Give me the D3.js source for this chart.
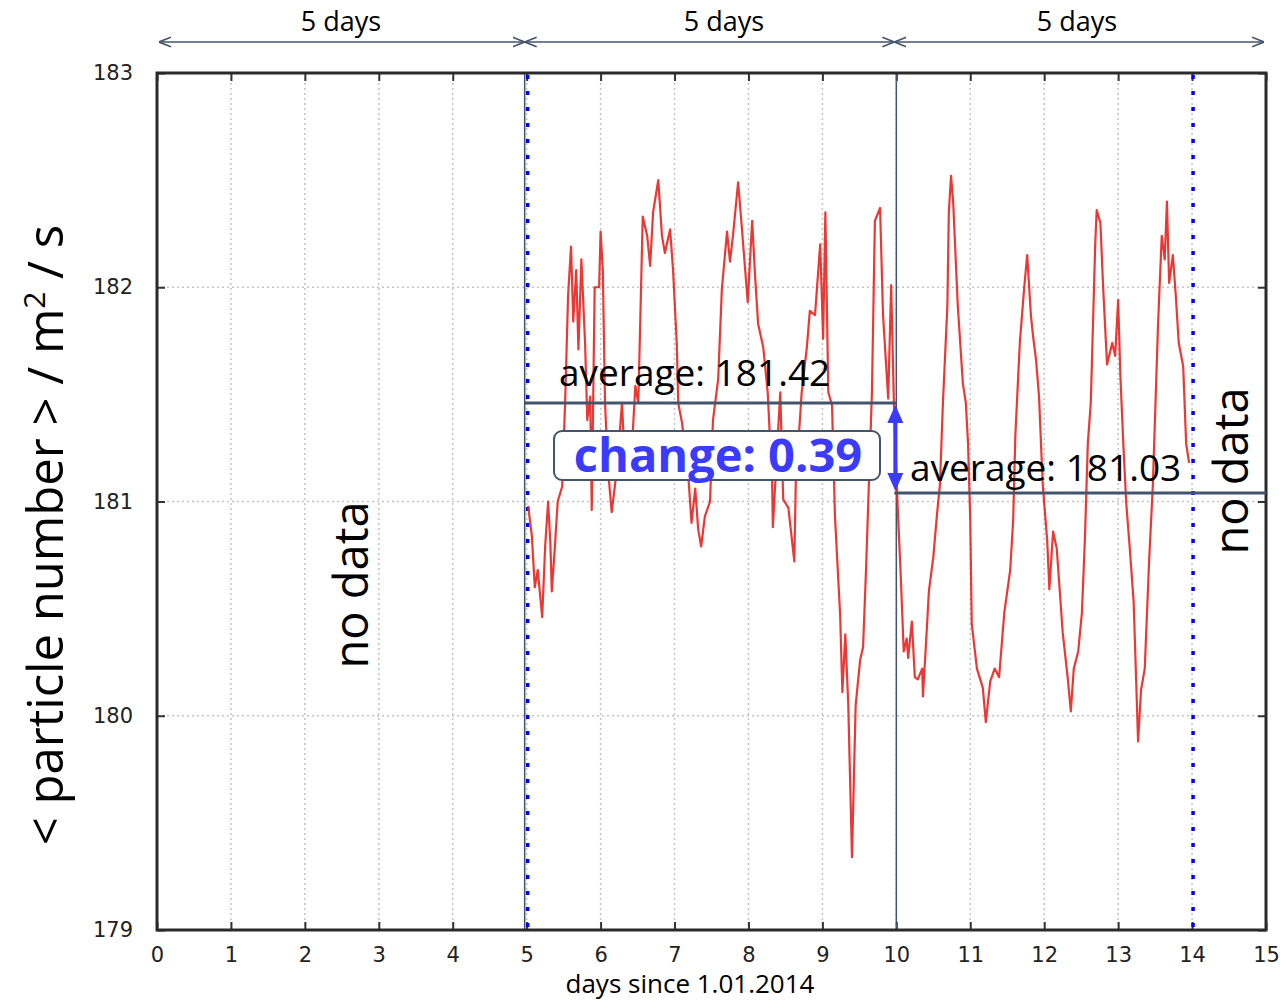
<!DOCTYPE html>
<html>
<head>
<meta charset="utf-8">
<script src="https://cdn.jsdelivr.net/npm/d3@7"></script>
<style>
  body { margin: 0; background: #fff; }
  svg { display: block; }
  .tick text { font-family: "DejaVu Sans", sans-serif; font-size: 21px; fill: #222; }
  .lbl { font-family: "Open Sans", sans-serif; fill: #000; }
</style>
</head>
<body>
<div id="chart"></div>
<script>
// days since 1.01.2014 and particle flux
const days = [
  5.02, 5.07, 5.11, 5.15, 5.21, 5.25, 5.29, 5.32, 5.34, 5.38, 5.42, 5.48, 5.52, 5.56, 5.60, 5.63,
  5.67, 5.70, 5.74, 5.79, 5.82, 5.86, 5.88, 5.92, 5.98, 6.00, 6.03, 6.06, 6.10, 6.15, 6.22, 6.29,
  6.33, 6.37, 6.42, 6.47, 6.51, 6.57, 6.63, 6.67, 6.71, 6.78, 6.83, 6.87, 6.94, 6.98, 7.03, 7.05,
  7.10, 7.18, 7.23, 7.28, 7.32, 7.36, 7.41, 7.48, 7.52, 7.59, 7.64, 7.71, 7.75, 7.79, 7.86, 7.91,
  7.99, 8.05, 8.09, 8.13, 8.20, 8.26, 8.32, 8.33, 8.39, 8.43, 8.47, 8.54, 8.62, 8.64, 8.72, 8.79,
  8.83, 8.90, 8.97, 9.01, 9.04, 9.08, 9.13, 9.17, 9.24, 9.27, 9.31, 9.35, 9.40, 9.45, 9.51, 9.55,
  9.59, 9.67, 9.71, 9.78, 9.82, 9.89, 9.93, 9.97, 10.02, 10.06, 10.10, 10.14, 10.16, 10.21, 10.25,
  10.29, 10.35, 10.36, 10.41, 10.44, 10.50, 10.55, 10.59, 10.63, 10.69, 10.71, 10.74, 10.77, 10.83,
  10.90, 10.94, 10.97, 11.00, 11.02, 11.09, 11.17, 11.21, 11.27, 11.33, 11.39, 11.46, 11.54, 11.58,
  11.61, 11.67, 11.73, 11.77, 11.82, 11.85, 11.89, 11.93, 11.98, 12.04, 12.07, 12.12, 12.17, 12.25,
  12.32, 12.36, 12.40, 12.46, 12.51, 12.55, 12.59, 12.63, 12.69, 12.71, 12.76, 12.80, 12.85, 12.92,
  12.96, 13.00, 13.03, 13.07, 13.11, 13.16, 13.21, 13.27, 13.31, 13.36, 13.42, 13.47, 13.54, 13.59,
  13.63, 13.66, 13.69, 13.74, 13.78, 13.82, 13.88, 13.92, 13.96
];
const flux = [
  180.98, 180.84, 180.60, 180.68, 180.46, 180.79, 181.00, 180.81, 180.58, 180.78, 181.00, 181.07, 181.46, 181.96, 182.19, 181.84,
  182.08, 181.71, 182.13, 181.74, 181.38, 181.49, 180.96, 182.00, 182.00, 182.26, 182.08, 181.46, 181.15, 180.95, 181.15, 181.46,
  181.15, 181.10, 181.23, 181.54, 181.46, 182.33, 182.24, 182.10, 182.35, 182.50, 182.24, 182.16, 182.27, 182.08, 181.74, 181.46,
  181.37, 181.15, 180.90, 181.06, 180.87, 180.79, 180.93, 181.00, 181.38, 181.57, 181.99, 182.26, 182.12, 182.24, 182.49, 182.28,
  181.93, 182.31, 182.05, 181.83, 181.72, 181.51, 181.09, 180.88, 181.26, 181.51, 181.01, 180.97, 180.72, 181.09, 181.51, 181.72,
  181.89, 181.87, 182.20, 181.76, 182.35, 181.51, 181.45, 180.93, 180.47, 180.11, 180.38, 180.05, 179.34, 180.05, 180.26, 180.32,
  180.68, 181.51, 182.31, 182.37, 181.87, 181.48, 182.01, 181.42, 180.96, 180.65, 180.30, 180.36, 180.27, 180.44, 180.18,
  180.17, 180.22, 180.09, 180.39, 180.58, 180.74, 180.94, 181.08, 181.46, 181.91, 182.35, 182.52, 182.39, 181.92,
  181.55, 181.46, 181.27, 180.91, 180.43, 180.22, 180.13, 179.97, 180.16, 180.22, 180.18, 180.48, 180.68, 180.91,
  181.31, 181.74, 182.00, 182.15, 181.87, 181.77, 181.66, 181.49, 181.08, 180.82, 180.59, 180.86, 180.78, 180.39,
  180.17, 180.02, 180.22, 180.30, 180.48, 180.82, 181.27, 181.46, 182.20, 182.36, 182.30, 181.98, 181.64, 181.74,
  181.68, 181.94, 181.59, 181.27, 180.99, 180.77, 180.53, 179.88, 180.12, 180.22, 180.73, 181.08, 181.83, 182.24,
  182.13, 182.40, 182.02, 182.15, 181.96, 181.74, 181.63, 181.27, 181.18
];

const xTicks = d3.range(0, 16);
const yTicks = [179, 180, 181, 182, 183];
const periodEdges = [0, 5, 10, 15];          // "5 days" spans along the top
const dataEdges = [5, 14];                   // blue dotted limits of the data
const averages = [
  { from: 5, to: 10, level: 181.46, label: "average: 181.42" },
  { from: 10, to: 15, level: 181.04, label: "average: 181.03" }
];

const W = 1284, H = 1003;
const margin = { top: 73, right: 18, bottom: 73, left: 157 };
const x = d3.scaleLinear().domain([0, 15]).range([margin.left, W - margin.right]);
const y = d3.scaleLinear().domain([179, 183]).range([H - margin.bottom, margin.top]);

const svg = d3.select("#chart").append("svg").attr("width", W).attr("height", H);

const slate = "#44546a";
const blue = "#3b3bff";

// dotted grid
svg.append("g").selectAll("line").data(xTicks.slice(1, -1)).join("line")
  .attr("x1", d => x(d)).attr("x2", d => x(d))
  .attr("y1", y(183)).attr("y2", y(179))
  .attr("stroke", "#c4c4c4").attr("stroke-width", 1.5).attr("stroke-dasharray", "2,3");
svg.append("g").selectAll("line").data(yTicks.slice(1, -1)).join("line")
  .attr("x1", x(0)).attr("x2", x(15))
  .attr("y1", d => y(d)).attr("y2", d => y(d))
  .attr("stroke", "#c4c4c4").attr("stroke-width", 1.5).attr("stroke-dasharray", "2,3");

// axes: inward ticks on all four sides, labels bottom and left
svg.append("g").attr("transform", `translate(0,${y(179)})`)
  .call(d3.axisBottom(x).tickValues(xTicks).tickSizeInner(-8).tickSizeOuter(0).tickPadding(17));
svg.append("g").attr("transform", `translate(${x(0)},0)`)
  .call(d3.axisLeft(y).tickValues(yTicks).tickFormat(d3.format("d"))
    .tickSizeInner(-8).tickSizeOuter(0).tickPadding(24));
svg.append("g").attr("transform", `translate(0,${y(183)})`)
  .call(d3.axisTop(x).tickValues(xTicks).tickSizeInner(-8).tickSizeOuter(0).tickFormat(""));
svg.append("g").attr("transform", `translate(${x(15)},0)`)
  .call(d3.axisRight(y).tickValues(yTicks).tickSizeInner(-8).tickSizeOuter(0).tickFormat(""));
svg.selectAll(".domain").remove();
svg.selectAll(".tick line").attr("stroke", "#333").attr("stroke-width", 2);

// period separators
svg.append("g").selectAll("line").data([5, 10]).join("line")
  .attr("x1", d => x(d) - (d === 5 ? 2 : 0)).attr("x2", d => x(d) - (d === 5 ? 2 : 0))
  .attr("y1", y(183)).attr("y2", y(179))
  .attr("stroke", slate).attr("stroke-width", 1.5);

// data limits
svg.append("g").selectAll("line").data(dataEdges).join("line")
  .attr("x1", d => x(d) + 1).attr("x2", d => x(d) + 1)
  .attr("y1", y(183) + 2).attr("y2", y(179))
  .attr("stroke", "#0000ff").attr("stroke-width", 3.5).attr("stroke-dasharray", "4,12");

// the series
svg.append("path")
  .datum(days.map((d, i) => [d, flux[i]]))
  .attr("fill", "none")
  .attr("stroke", "#e8231f")
  .attr("stroke-width", 2.2)
  .attr("stroke-opacity", 0.9)
  .attr("stroke-linejoin", "round")
  .attr("d", d3.line().x(d => x(d[0])).y(d => y(d[1])));

// frame
svg.append("rect")
  .attr("x", x(0)).attr("y", y(183))
  .attr("width", x(15) - x(0)).attr("height", y(179) - y(183))
  .attr("fill", "none").attr("stroke", "#2a2a2a").attr("stroke-width", 3);

// averages
svg.append("g").selectAll("line").data(averages).join("line")
  .attr("x1", d => x(d.from) - 2).attr("x2", d => x(d.to))
  .attr("y1", d => y(d.level)).attr("y2", d => y(d.level))
  .attr("stroke", slate).attr("stroke-width", 3);
svg.append("text").attr("class", "lbl").attr("x", 559).attr("y", 386)
  .style("font-size", "37px").text(averages[0].label);
svg.append("text").attr("class", "lbl").attr("x", 910).attr("y", 481)
  .style("font-size", "37px").text(averages[1].label);

// change arrow: shaft plus two filled heads
const ax = x(10) - 1;
const yTop = y(averages[0].level) + 2, yBot = y(averages[1].level) - 2;
svg.append("line")
  .attr("x1", ax).attr("x2", ax).attr("y1", yTop + 10).attr("y2", yBot - 10)
  .attr("stroke", blue).attr("stroke-width", 4);
svg.append("path")
  .attr("d", `M${ax},${yTop}L${ax - 8},${yTop + 18}L${ax + 8},${yTop + 18}Z`
    + `M${ax},${yBot}L${ax - 8},${yBot - 18}L${ax + 8},${yBot - 18}Z`)
  .attr("fill", blue);

svg.append("rect").attr("x", 554).attr("y", 431).attr("width", 326).attr("height", 49)
  .attr("rx", 8).attr("fill", "#fff").attr("stroke", slate).attr("stroke-width", 2);
svg.append("text").attr("x", 718).attr("y", 472).attr("text-anchor", "middle")
  .style("font-family", "'Open Sans', sans-serif").style("font-weight", "bold")
  .style("font-size", "47px").style("fill", blue).text("change: 0.39");

// "5 days" spans
const defs = svg.append("defs");
defs.append("marker").attr("id", "open").attr("viewBox", "0 0 10 10")
  .attr("refX", 10).attr("refY", 5).attr("markerWidth", 12).attr("markerHeight", 12)
  .attr("markerUnits", "userSpaceOnUse").attr("orient", "auto-start-reverse")
  .append("path").attr("d", "M0,1L10,5L0,9").attr("fill", "none")
  .attr("stroke", slate).attr("stroke-width", 1.4);
const spans = d3.pairs(periodEdges);
svg.append("g").selectAll("line").data(spans).join("line")
  .attr("x1", d => x(d[0]) + (d[0] === 0 ? 4 : 0) - 2).attr("x2", d => x(d[1]) - 2)
  .attr("y1", 42).attr("y2", 42)
  .attr("stroke", slate).attr("stroke-width", 1.6)
  .attr("marker-start", "url(#open)").attr("marker-end", "url(#open)");
svg.append("g").selectAll("text").data(spans).join("text")
  .attr("class", "lbl")
  .attr("x", (d, i) => [341, 724, 1077][i])
  .attr("y", 31).attr("text-anchor", "middle")
  .style("font-size", "27px").text("5 days");

// no data
svg.append("text").attr("class", "lbl")
  .attr("transform", "translate(368,585) rotate(-90)").attr("text-anchor", "middle")
  .style("font-size", "47px").text("no data");
svg.append("text").attr("class", "lbl")
  .attr("transform", "translate(1248,471) rotate(-90)").attr("text-anchor", "middle")
  .style("font-size", "47px").text("no data");

// axis titles
svg.append("text").attr("class", "lbl")
  .attr("x", 690).attr("y", 993).attr("text-anchor", "middle")
  .style("font-size", "26px").text("days since 1.01.2014");

const yl = svg.append("text").attr("class", "lbl")
  .attr("transform", "translate(63,535) rotate(-90)").attr("text-anchor", "middle")
  .style("font-size", "49px");
yl.append("tspan").text("< particle number > / m");
yl.append("tspan").attr("dy", -18).style("font-size", "30px").text("2");
yl.append("tspan").attr("dy", 18).text(" / s");
</script>
</body>
</html>
